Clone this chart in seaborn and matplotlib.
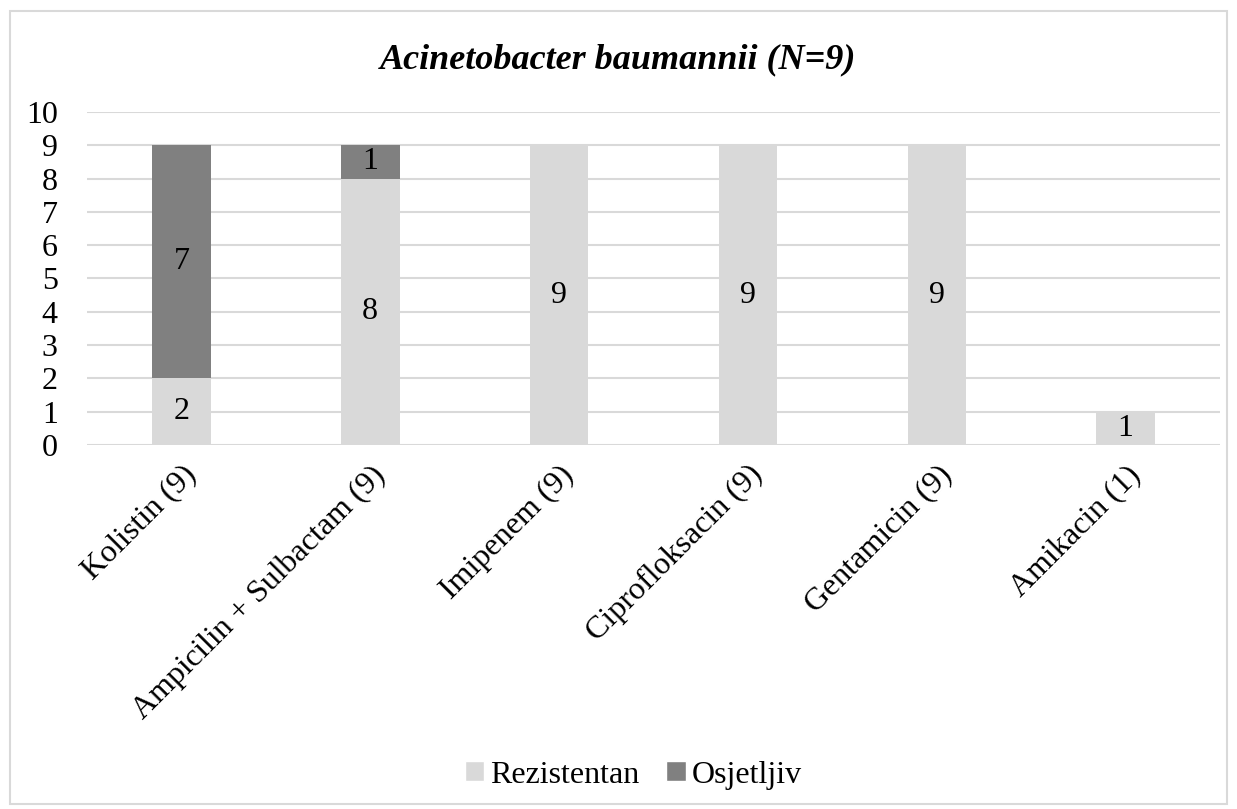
import seaborn as sns
import matplotlib.pyplot as plt
import pandas as pd
from matplotlib.patches import Rectangle, Patch

antibiotici = ['Kolistin (9)', 'Ampicilin + Sulbactam (9)', 'Imipenem (9)',
               'Ciprofloksacin (9)', 'Gentamicin (9)', 'Amikacin (1)']
rezistentan = [2, 8, 9, 9, 9, 1]
osjetljiv = [7, 1, 0, 0, 0, 0]

svijetla = '#D9D9D9'
tamna = '#808080'

df = pd.DataFrame({'antibiotik': antibiotici,
                   'Rezistentan': rezistentan,
                   'Osjetljiv': osjetljiv})
df['ukupno'] = df['Rezistentan'] + df['Osjetljiv']

sns.set_theme(style='white')
plt.rcParams['font.family'] = ['Liberation Serif', 'DejaVu Serif']
plt.rcParams['text.color'] = 'black'
plt.rcParams['xtick.color'] = 'black'
plt.rcParams['ytick.color'] = 'black'

fig = plt.figure(figsize=(12.37, 8.09), dpi=100)
ax = fig.add_axes([0.0703, 0.450, 0.916, 0.4116])

# ukupno (tamno) ispod, rezistentan (svijetlo) preko
sns.barplot(data=df, x='antibiotik', y='ukupno', color=tamna, width=0.31,
            saturation=1, linewidth=0, ax=ax, zorder=2)
sns.barplot(data=df, x='antibiotik', y='Rezistentan', color=svijetla, width=0.31,
            saturation=1, linewidth=0, ax=ax, zorder=3)

for i, (r, o) in enumerate(zip(rezistentan, osjetljiv)):
    if r > 0:
        ax.text(i, r / 2, str(r), ha='center', va='center', fontsize=23, zorder=4)
    if o > 0:
        ax.text(i, r + o / 2, str(o), ha='center', va='center', fontsize=23, zorder=4)

ax.set_ylim(0, 10)
ax.set_xlim(-0.5, 5.5)
ax.set_yticks(range(0, 11))
ax.yaxis.grid(True, color=svijetla, linewidth=1.5, zorder=0)
ax.set_axisbelow(True)
for s in ax.spines.values():
    s.set_visible(False)
ax.tick_params(axis='y', length=0, labelsize=23, pad=21)
ax.tick_params(axis='x', length=0, labelsize=23, pad=11)
ax.set_xticks(range(len(antibiotici)))
ax.set_xticklabels(antibiotici, rotation=45, ha='right', rotation_mode='anchor')
ax.set_xlabel('')
ax.set_ylabel('')

fig.text(0.5, 0.926, 'Acinetobacter baumannii (N=9)', ha='center', va='center',
         fontsize=26, fontweight='bold', fontstyle='italic')

handles = [Patch(facecolor=svijetla, label='Rezistentan'),
           Patch(facecolor=tamna, label='Osjetljiv')]
fig.legend(handles=handles, loc='center', bbox_to_anchor=(0.512, 0.042), ncol=2,
           frameon=False, fontsize=23, handlelength=0.6, handleheight=0.6,
           handletextpad=0.2, columnspacing=0.85)

fig.patches.append(Rectangle((0.008, 0.006), 0.984, 0.981, transform=fig.transFigure,
                             fill=False, edgecolor='#D9D9D9', linewidth=1.5))

fig.savefig('out.png', dpi=100)
